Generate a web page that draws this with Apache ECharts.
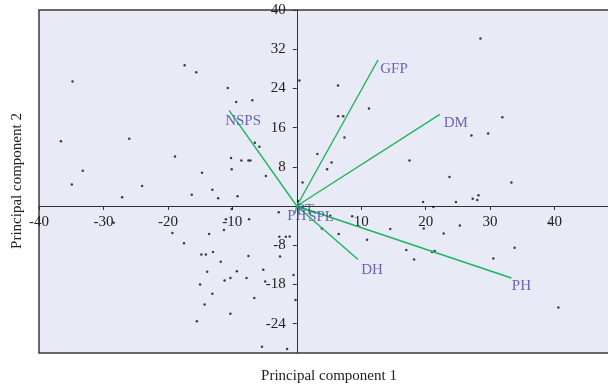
<!DOCTYPE html>
<html><head><meta charset="utf-8">
<script src="https://cdn.jsdelivr.net/npm/echarts@6/dist/echarts.min.js"></script>
<style>html,body{margin:0;padding:0;background:#fff}#c{width:608px;height:387px}</style>
</head><body><div id="c"></div>
<script>
const xTicks = [-40, -30, -20, -10, 10, 20, 30, 40];
const yTicks = [-24, -16, -8, 8, 16, 24, 32, 40];
const yTickLabels = ['-24', '-18', '-8', '8', '16', '24', '32', '40'];
const xTitle = 'Principal component 1';
const yTitle = 'Principal component 2';

const scoresX = [
  -34.8,-17.4,-15.6,-10.7,-9.4,-6.9,-36.6,-26.0,-6.5,-5.8,-18.9,-10.2,-8.6,-7.5,-7.2,-33.2,-14.7,-10.1,-4.8,-34.9,
  -24.0,-27.1,-16.3,-13.1,-12.2,-9.2,0.4,0.9,-2.8,-7.4,-11.0,-11.3,-10.1,-28.4,-19.3,-17.5,-13.6,-14.8,-14.1,-13.0,
  -11.8,-7.5,-2.6,-2.7,-1.7,-1.1,-13.9,-9.3,-5.2,-10.3,-11.2,-7.8,-15.0,-4.9,-0.5,-13.1,-14.3,-6.6,-0.2,-10.3,
  -15.5,-5.4,-1.5,28.5,6.4,11.2,6.4,7.2,31.9,7.4,27.1,29.7,3.2,17.5,5.4,4.7,23.7,33.3,28.2,27.3,
  28.0,19.6,21.2,24.7,8.6,5.2,6.5,3.9,10.9,14.5,19.7,22.8,25.3,17.0,18.2,21.0,21.4,30.5,33.8,39.2,
  40.6,0.2
];
const scoresY = [
  25.4,28.7,27.3,24.1,21.2,21.6,13.2,13.7,12.9,12.1,10.1,9.8,9.3,9.3,9.3,7.2,6.8,7.5,6.1,4.4,
  4.1,1.8,2.3,3.3,1.6,2.0,25.6,4.8,-1.3,-2.7,-2.7,-4.9,-0.6,-3.4,-5.5,-7.6,-5.7,-9.9,-9.9,-9.4,
  -11.4,-10.2,-10.3,-6.3,-6.3,-6.2,-13.4,-13.3,-13.0,-14.7,-15.2,-14.7,-16.0,-15.4,-14.1,-17.9,-20.1,-18.8,-19.2,-22.0,
  -23.5,-28.7,-29.2,34.2,24.6,19.9,18.3,18.3,18.1,14.0,14.4,14.8,10.6,9.3,8.9,7.5,5.9,4.8,2.2,1.5,
  1.2,0.8,-0.2,0.8,-2.1,-2.0,-5.7,-4.6,-6.9,-4.7,-4.6,-5.6,-4.0,-9.0,-10.9,-9.4,-9.2,-10.7,-8.5,-3.5,
  -20.7,1.0
];

const vectorNames = ['GFP', 'DM', 'NSPS', 'DH', 'PH', 'PT', 'PH', 'SPL'];
const vectorX = [12.6, 22.2, -10.5, 9.5, 33.3, 1.0, -0.3, 3.0];
const vectorY = [29.8, 18.7, 19.5, -10.9, -14.7, -0.5, -1.5, -1.5];

// label offsets (style only), px relative to vector tip
const labelOffsets = [[16, 9], [16, 9], [14, 11], [14, 11], [10, 8], [2, 2], [2, 3], [5, 4]];

const serif = '"Liberation Serif", "DejaVu Serif", serif';
const GRID = { left: 39, top: 10, width: 580, height: 343 };
const X_MIN = -40, X_MAX = 50, Y_MIN = -30, Y_MAX = 40;
// shift axes so they cross at the origin
const zeroXpx = GRID.width * (0 - X_MIN) / (X_MAX - X_MIN);
const zeroYpx = GRID.height * (Y_MAX - 0) / (Y_MAX - Y_MIN);

const chart = echarts.init(document.getElementById('c'));

const vectorSeries = vectorNames.map((n, i) => ({
  type: 'line', silent: true, symbol: 'none', z: 3,
  lineStyle: { color: '#1fb35c', width: 1.4 },
  data: [[0, 0], [vectorX[i], vectorY[i]]]
}));

chart.setOption({
  animation: false,
  backgroundColor: '#ffffff',
  grid: Object.assign({}, GRID, {
    show: true, backgroundColor: '#e8ebf5', borderColor: '#3a3a3a', borderWidth: 1.5,
    outerBoundsMode: 'none', containLabel: false
  }),
  xAxis: {
    type: 'value', min: X_MIN, max: X_MAX, position: 'bottom',
    offset: -(GRID.height - zeroYpx),
    axisLine: { show: true, onZero: false, lineStyle: { color: '#333', width: 1 } },
    axisTick: { show: true, length: 4, customValues: xTicks, lineStyle: { color: '#333' } },
    axisLabel: { customValues: xTicks, fontFamily: serif, fontSize: 15, color: '#222', margin: 9 },
    splitLine: { show: false }
  },
  yAxis: {
    type: 'value', min: Y_MIN, max: Y_MAX, position: 'left',
    offset: -zeroXpx,
    axisLine: { show: true, onZero: false, lineStyle: { color: '#333', width: 1 } },
    axisTick: { show: true, length: 4, customValues: yTicks, lineStyle: { color: '#333' } },
    axisLabel: {
      customValues: yTicks, fontFamily: serif, fontSize: 15, color: '#222', margin: 11,
      formatter: v => { const k = yTicks.indexOf(v); return k >= 0 ? yTickLabels[k] : ''; }
    },
    splitLine: { show: false }
  },
  graphic: [
    { type: 'text', x: 329, y: 376, style: { text: xTitle, align: 'center', verticalAlign: 'middle', font: '15px ' + serif, fill: '#222' } },
    { type: 'text', x: 17, y: 181, rotation: Math.PI / 2, style: { text: yTitle, align: 'center', verticalAlign: 'middle', font: '15px ' + serif, fill: '#222' } }
  ],
  series: [
    {
      type: 'scatter', symbolSize: 2.5, z: 2, silent: true,
      itemStyle: { color: '#111' },
      data: scoresX.map((x, i) => [x, scoresY[i]])
    },
    ...vectorSeries,
    {
      type: 'scatter', symbolSize: 1, z: 4, silent: true,
      itemStyle: { color: 'rgba(0,0,0,0)' },
      label: { show: true, position: 'inside', formatter: '{b}', fontFamily: serif, fontSize: 15, color: '#4a42a5' },
      data: vectorNames.map((n, i) => ({ name: n, value: [vectorX[i], vectorY[i]], label: { offset: labelOffsets[i] } }))
    }
  ]
});
</script></body></html>
